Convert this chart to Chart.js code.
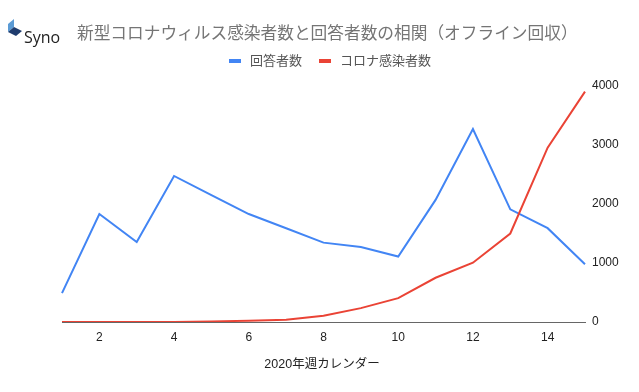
<!DOCTYPE html>
<html>
<head>
<meta charset="utf-8">
<script src="https://cdn.jsdelivr.net/npm/chart.js@4"></script>
<style>
  body { margin: 0; background: #fff; }
</style>
</head>
<body>
<canvas id="chart" width="639" height="392"></canvas>
<script>
const weeks = [1, 2, 3, 4, 5, 6, 7, 8, 9, 10, 11, 12, 13, 14, 15];
const respondents = [490, 1830, 1356, 2475, 2150, 1830, 1590, 1345, 1270, 1110, 2070, 3270, 1910, 1590, 980];
const infected = [0, 0, 0, 2, 10, 22, 40, 105, 235, 405, 750, 1005, 1500, 2955, 3905];
const yTicks = [0, 1000, 2000, 3000, 4000];

const titleText = '新型コロナウィルス感染者数と回答者数の相関（オフライン回収）';
const xTitleText = '2020年週カレンダー';
const cjk = "'Liberation Sans', 'Noto Sans CJK JP', sans-serif";

// タイトル・凡例・ロゴは手書き
const decorations = {
    id: 'decorations',
    afterDraw(chart) {
        const ctx = chart.ctx;
        ctx.save();

        // logo
        ctx.fillStyle = '#5b9bd5';
        ctx.beginPath();
        ctx.moveTo(8, 24); ctx.lineTo(14, 19); ctx.lineTo(14, 27); ctx.lineTo(8, 32);
        ctx.closePath(); ctx.fill();
        ctx.fillStyle = '#1f3c6e';
        ctx.beginPath();
        ctx.moveTo(8, 32); ctx.lineTo(14, 27); ctx.lineTo(22, 31); ctx.lineTo(16, 36);
        ctx.closePath(); ctx.fill();
        ctx.fillStyle = '#222';
        ctx.font = "16px 'Open Sans', sans-serif";
        ctx.textBaseline = 'alphabetic';
        ctx.fillText('Syno', 24, 43);

        // title
        ctx.fillStyle = '#757575';
        ctx.font = '16.7px ' + cjk;
        ctx.textBaseline = 'middle';
        ctx.fillText(titleText, 77, 34);

        // legend
        ctx.font = '13px ' + cjk;
        let x = 229;
        chart.data.datasets.forEach(ds => {
            ctx.fillStyle = ds.borderColor;
            ctx.fillRect(x, 59, 12, 4);
            ctx.fillStyle = '#555';
            ctx.fillText(ds.label, x + 21, 61);
            x += 21 + ctx.measureText(ds.label).width + 17;
        });

        // x axis title
        ctx.fillStyle = '#222';
        ctx.font = '12.5px ' + cjk;
        ctx.textAlign = 'center';
        ctx.fillText(xTitleText, 322, 365);
        ctx.restore();
    }
};

new Chart(document.getElementById('chart'), {
    type: 'line',
    data: {
        labels: weeks,
        datasets: [{
            label: '回答者数',
            data: respondents,
            borderColor: '#4285f4',
            borderWidth: 2,
            pointRadius: 0,
            tension: 0,
            order: 1
        }, {
            label: 'コロナ感染者数',
            data: infected,
            borderColor: '#ea4335',
            borderWidth: 2,
            pointRadius: 0,
            tension: 0,
            order: 0
        }]
    },
    options: {
        responsive: false,
        animation: false,
        layout: { padding: { left: 62, top: 86, right: 0, bottom: 0 } },
        plugins: {
            legend: { display: false },
            title: { display: false },
            tooltip: { enabled: false }
        },
        scales: {
            x: {
                grid: { display: false, drawTicks: false },
                border: { display: true, color: '#666' },
                ticks: {
                    autoSkip: false,
                    maxRotation: 0,
                    padding: 8,
                    color: '#222',
                    font: { family: "'Liberation Sans', sans-serif", size: 12 },
                    callback: (v, i) => weeks[i] % 2 === 0 ? weeks[i] : ''
                },
                afterFit: s => { s.height = 70; }
            },
            y: {
                position: 'right',
                min: 0,
                max: 4000,
                grid: { display: false, drawTicks: false },
                border: { display: false },
                afterBuildTicks: s => { s.ticks = yTicks.map(v => ({ value: v })); },
                ticks: {
                    padding: 7,
                    color: '#222',
                    font: { family: "'Liberation Sans', sans-serif", size: 12 },
                    callback: v => String(v)
                },
                afterFit: s => { s.width = 54; }
            }
        }
    },
    plugins: [decorations]
});
</script>
</body>
</html>
